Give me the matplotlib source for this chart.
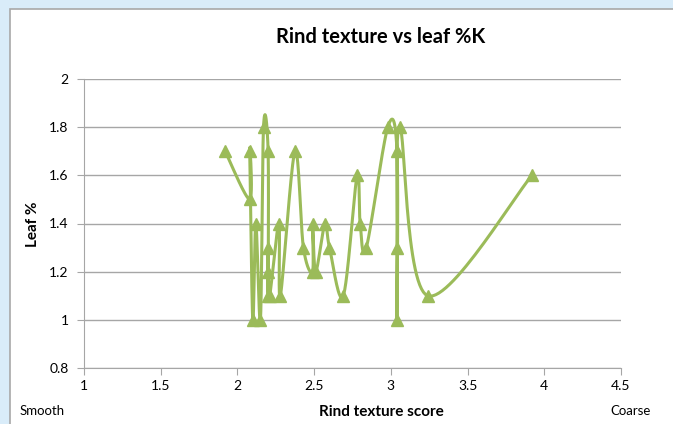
import numpy as np
import matplotlib
matplotlib.use("Agg")
import matplotlib.pyplot as plt
from matplotlib.patches import Rectangle

# Data (in series order)
rind_score = [1.92, 2.08, 2.08, 2.10, 2.12, 2.15, 2.17, 2.20, 2.20, 2.20, 2.20, 2.21,
              2.27, 2.28, 2.375, 2.43, 2.49, 2.49, 2.51, 2.57, 2.60, 2.69, 2.78, 2.80,
              2.84, 2.98, 3.04, 3.04, 3.04, 3.06, 3.24, 3.92]
leaf_k = [1.7, 1.5, 1.7, 1.0, 1.4, 1.0, 1.8, 1.7, 1.1, 1.3, 1.2, 1.1,
          1.4, 1.1, 1.7, 1.3, 1.2, 1.4, 1.2, 1.4, 1.3, 1.1, 1.6, 1.4,
          1.3, 1.8, 1.7, 1.0, 1.3, 1.8, 1.1, 1.6]
x_ticks = [1, 1.5, 2, 2.5, 3, 3.5, 4, 4.5]
y_ticks = [0.8, 1, 1.2, 1.4, 1.6, 1.8, 2]

GREEN = "#9BBB59"
FONT = ["Lato", "DejaVu Sans"]

def smooth(xs, ys, n=30):
    p = np.column_stack([xs, ys]).astype(float)
    m = len(p)
    out = [p[0]]
    t = np.linspace(0, 1, n)[1:, None]
    for i in range(m - 1):
        p0 = p[i - 1] if i > 0 else p[i]
        p3 = p[i + 2] if i + 2 < m else p[i + 1]
        a, d = p[i], p[i + 1]
        b = a + (d - p0) / 6.0
        c = d - (p3 - a) / 6.0
        seg = ((1 - t) ** 3) * a + 3 * ((1 - t) ** 2) * t * b + 3 * (1 - t) * t ** 2 * c + t ** 3 * d
        out.extend(seg)
    out = np.array(out)
    return out[:, 0], out[:, 1]

W, H = 673, 424
fig = plt.figure(figsize=(W / 100, H / 100), dpi=100)
fig.patch.set_facecolor("#D9ECF9")
panel = Rectangle((10 / W, -0.05), 1.0, 1.05 - 9 / H, transform=fig.transFigure,
                  facecolor="white", edgecolor="#A8A8A8", linewidth=1.2, zorder=-10)
fig.patches.append(panel)

ax = fig.add_axes([84 / W, 1 - 368 / H, (621 - 84) / W, (368 - 79) / H])
ax.set_zorder(5)
ax.set_facecolor("white")
sx, sy = smooth(rind_score, leaf_k)
ax.plot(sx, sy, color=GREEN, linewidth=2.2, zorder=3, clip_on=False)
ax.plot(rind_score, leaf_k, linestyle="none", marker="^", markersize=8.5,
        color=GREEN, zorder=4, clip_on=False)

ax.set_xlim(1, 4.5)
ax.set_ylim(0.8, 2)
ax.set_xticks(x_ticks)
ax.set_yticks(y_ticks)
ax.set_xticklabels([f"{v:g}" for v in x_ticks], fontfamily=FONT, fontsize=10)
ax.set_yticklabels([f"{v:g}" for v in y_ticks], fontfamily=FONT, fontsize=10)
ax.grid(axis="y", color="#A6A6A6", linewidth=1)
ax.set_axisbelow(True)
for s in ["top", "right"]:
    ax.spines[s].set_visible(False)
for s in ["left", "bottom"]:
    ax.spines[s].set_color("#A6A6A6")
ax.tick_params(axis="both", color="#A6A6A6", length=5, direction="out", labelcolor="black")
ax.tick_params(axis="x", pad=4)
ax.tick_params(axis="y", pad=6)

fig.text(381 / W, 1 - 37 / H, "Rind texture vs leaf %K", ha="center", va="center",
         fontsize=14.5, fontweight="bold", fontfamily=FONT, zorder=6)
fig.text(381 / W, 1 - 412 / H, "Rind texture score", ha="center", va="center",
         fontsize=11, fontweight="bold", fontfamily=FONT, zorder=6)
fig.text(33 / W, 1 - 224 / H, "Leaf %", ha="center", va="center", rotation=90,
         fontsize=11, fontweight="bold", fontfamily=FONT, zorder=6)
fig.text(42 / W, 1 - 411 / H, "Smooth", ha="center", va="center", fontsize=9.5, fontfamily=FONT, zorder=6)
fig.text(631 / W, 1 - 411 / H, "Coarse", ha="center", va="center", fontsize=9.5, fontfamily=FONT, zorder=6)

fig.savefig("out.png", dpi=100, facecolor=fig.get_facecolor())
